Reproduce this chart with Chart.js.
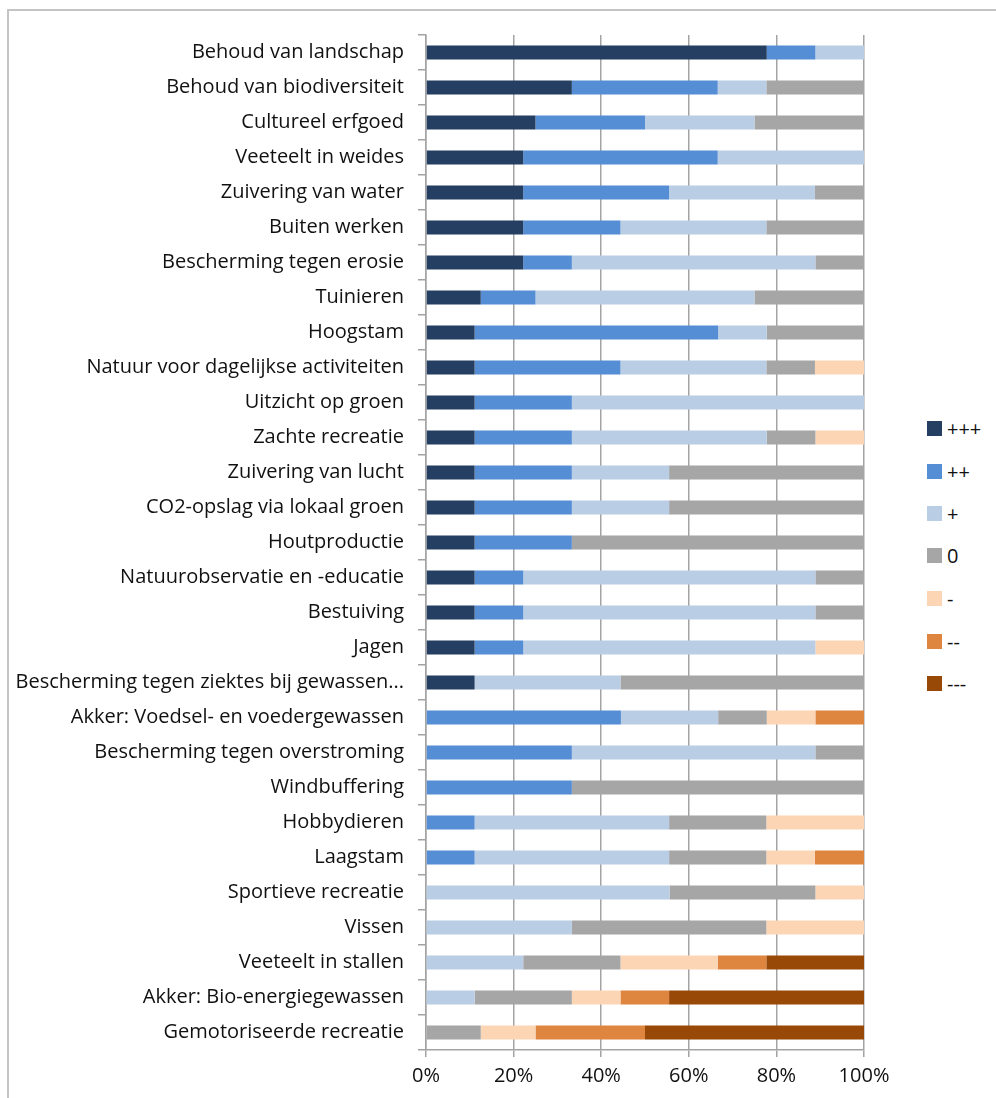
<!DOCTYPE html>
<html lang="nl">
<head>
    <meta charset="UTF-8" />
    <title>Ecosysteemdiensten</title>
    <script src="https://cdn.jsdelivr.net/npm/chart.js"></script>
    <style>
        html, body { margin: 0; padding: 0; background: #fff; overflow: hidden; }
        body { width: 996px; height: 1098px; position: relative; font-family: 'Open Sans', sans-serif; }
        .frame { position: absolute; left: 7px; top: 9px; width: 1200px; height: 1200px; border-left: 2px solid #c4c4c4; border-top: 2px solid #c4c4c4; }
        #chartBox { position: absolute; left: 0; top: 0; }
        .legend { position: absolute; left: 927px; top: 0; }
        .legend-item { position: absolute; left: 0; width: 70px; height: 22px; font-size: 20px; line-height: 22px; color: #111; white-space: nowrap; }
        .legend-item span { display: inline-block; width: 15px; height: 15px; vertical-align: middle; margin-right: 5px; position: relative; top: -2px; }
    </style>
</head>
<body>
    <div class="frame"></div>
    <canvas id="chartBox" width="900" height="1098"></canvas>
    <div class="legend" id="legend"></div>

    <script>
        // categories, top to bottom
        const categories = [
            'Behoud van landschap',
            'Behoud van biodiversiteit',
            'Cultureel erfgoed',
            'Veeteelt in weides',
            'Zuivering van water',
            'Buiten werken',
            'Bescherming tegen erosie',
            'Tuinieren',
            'Hoogstam',
            'Natuur voor dagelijkse activiteiten',
            'Uitzicht op groen',
            'Zachte recreatie',
            'Zuivering van lucht',
            'CO2-opslag via lokaal groen',
            'Houtproductie',
            'Natuurobservatie en -educatie',
            'Bestuiving',
            'Jagen',
            'Bescherming tegen ziektes bij gewassen...',
            'Akker: Voedsel- en voedergewassen',
            'Bescherming tegen overstroming',
            'Windbuffering',
            'Hobbydieren',
            'Laagstam',
            'Sportieve recreatie',
            'Vissen',
            'Veeteelt in stallen',
            'Akker: Bio-energiegewassen',
            'Gemotoriseerde recreatie'
        ];

        const seriesNames = ['+++', '++', '+', '0', '-', '--', '---'];

        // share of answers per score (%)
        const plus3  = [77.8, 33.3, 25, 22.2, 22.2, 22.2, 22.2, 12.5, 11.1, 11.1, 11.1, 11.1, 11.1, 11.1, 11.1, 11.1, 11.1, 11.1, 11.1, 0, 0, 0, 0, 0, 0, 0, 0, 0, 0];
        const plus2  = [11.1, 33.3, 25, 44.4, 33.3, 22.2, 11.1, 12.5, 55.6, 33.3, 22.2, 22.2, 22.2, 22.2, 22.2, 11.1, 11.1, 11.1, 0, 44.5, 33.3, 33.3, 11.1, 11.1, 0, 0, 0, 0, 0];
        const plus1  = [11.1, 11.1, 25, 33.4, 33.3, 33.3, 55.6, 50, 11.1, 33.3, 66.7, 44.5, 22.2, 22.2, 0, 66.7, 66.7, 66.7, 33.3, 22.2, 55.6, 0, 44.4, 44.4, 55.6, 33.3, 22.2, 11.1, 0];
        const zero   = [0, 22.3, 25, 0, 11.2, 22.3, 11.1, 25, 22.2, 11.1, 0, 11.1, 44.5, 44.5, 66.7, 11.1, 11.1, 0, 55.6, 11.1, 11.1, 66.7, 22.2, 22.2, 33.3, 44.4, 22.2, 22.2, 12.5];
        const minus1 = [0, 0, 0, 0, 0, 0, 0, 0, 0, 11.2, 0, 11.1, 0, 0, 0, 0, 0, 11.1, 0, 11.1, 0, 0, 22.3, 11.1, 11.1, 22.3, 22.2, 11.1, 12.5];
        const minus2 = [0, 0, 0, 0, 0, 0, 0, 0, 0, 0, 0, 0, 0, 0, 0, 0, 0, 0, 0, 11.1, 0, 0, 0, 11.2, 0, 0, 11.1, 11.1, 25];
        const minus3 = [0, 0, 0, 0, 0, 0, 0, 0, 0, 0, 0, 0, 0, 0, 0, 0, 0, 0, 0, 0, 0, 0, 0, 0, 0, 0, 22.3, 44.5, 50];

        const xTicks = [0, 20, 40, 60, 80, 100];

        const seriesData = [plus3, plus2, plus1, zero, minus1, minus2, minus3];
        const colors = ['#243f61', '#558ed5', '#b9cde5', '#a6a6a6', '#fcd5b5', '#de853f', '#984807'];
        const axisColor = '#a3a3a3';

        Chart.defaults.font.family = "'Open Sans', sans-serif";

        const datasets = seriesNames.map((name, i) => ({
            label: name,
            data: seriesData[i],
            backgroundColor: colors[i],
            borderWidth: 0,
            barPercentage: 0.4,
            categoryPercentage: 1
        }));

        const ctx = document.getElementById('chartBox').getContext('2d');
        new Chart(ctx, {
            type: 'bar',
            data: { labels: categories, datasets: datasets },
            options: {
                indexAxis: 'y',
                responsive: false,
                animation: false,
                layout: { padding: { top: 35, right: 36, left: 0, bottom: 0 } },
                plugins: {
                    legend: { display: false },
                    tooltip: { enabled: false }
                },
                scales: {
                    x: {
                        stacked: true,
                        min: 0,
                        max: 100,
                        afterFit: (scale) => { scale.height = 48; },
                        afterBuildTicks: (scale) => { scale.ticks = xTicks.map(v => ({ value: v })); },
                        ticks: {
                            callback: (v) => v + '%',
                            color: '#111',
                            font: { size: 20 },
                            padding: 7,
                            maxRotation: 0
                        },
                        grid: { color: axisColor, lineWidth: 1.5, tickLength: 7 },
                        border: { color: axisColor, width: 1.5 }
                    },
                    y: {
                        stacked: true,
                        afterFit: (scale) => { scale.width = 426; },
                        ticks: {
                            color: '#111',
                            font: { size: 20 },
                            padding: 14,
                            autoSkip: false
                        },
                        grid: { drawOnChartArea: false, drawTicks: true, tickLength: 8, color: axisColor, lineWidth: 1.5, offset: true },
                        border: { color: axisColor, width: 1.5 }
                    }
                }
            }
        });

        // legend to the right of the plot
        const legendTops = [429, 472, 514, 556, 599, 642, 684];
        const legend = document.getElementById('legend');
        seriesNames.forEach((name, i) => {
            const item = document.createElement('div');
            item.className = 'legend-item';
            item.style.top = (legendTops[i] - 11) + 'px';
            const box = document.createElement('span');
            box.style.background = colors[i];
            item.appendChild(box);
            item.appendChild(document.createTextNode(name));
            legend.appendChild(item);
        });
    </script>
</body>
</html>
